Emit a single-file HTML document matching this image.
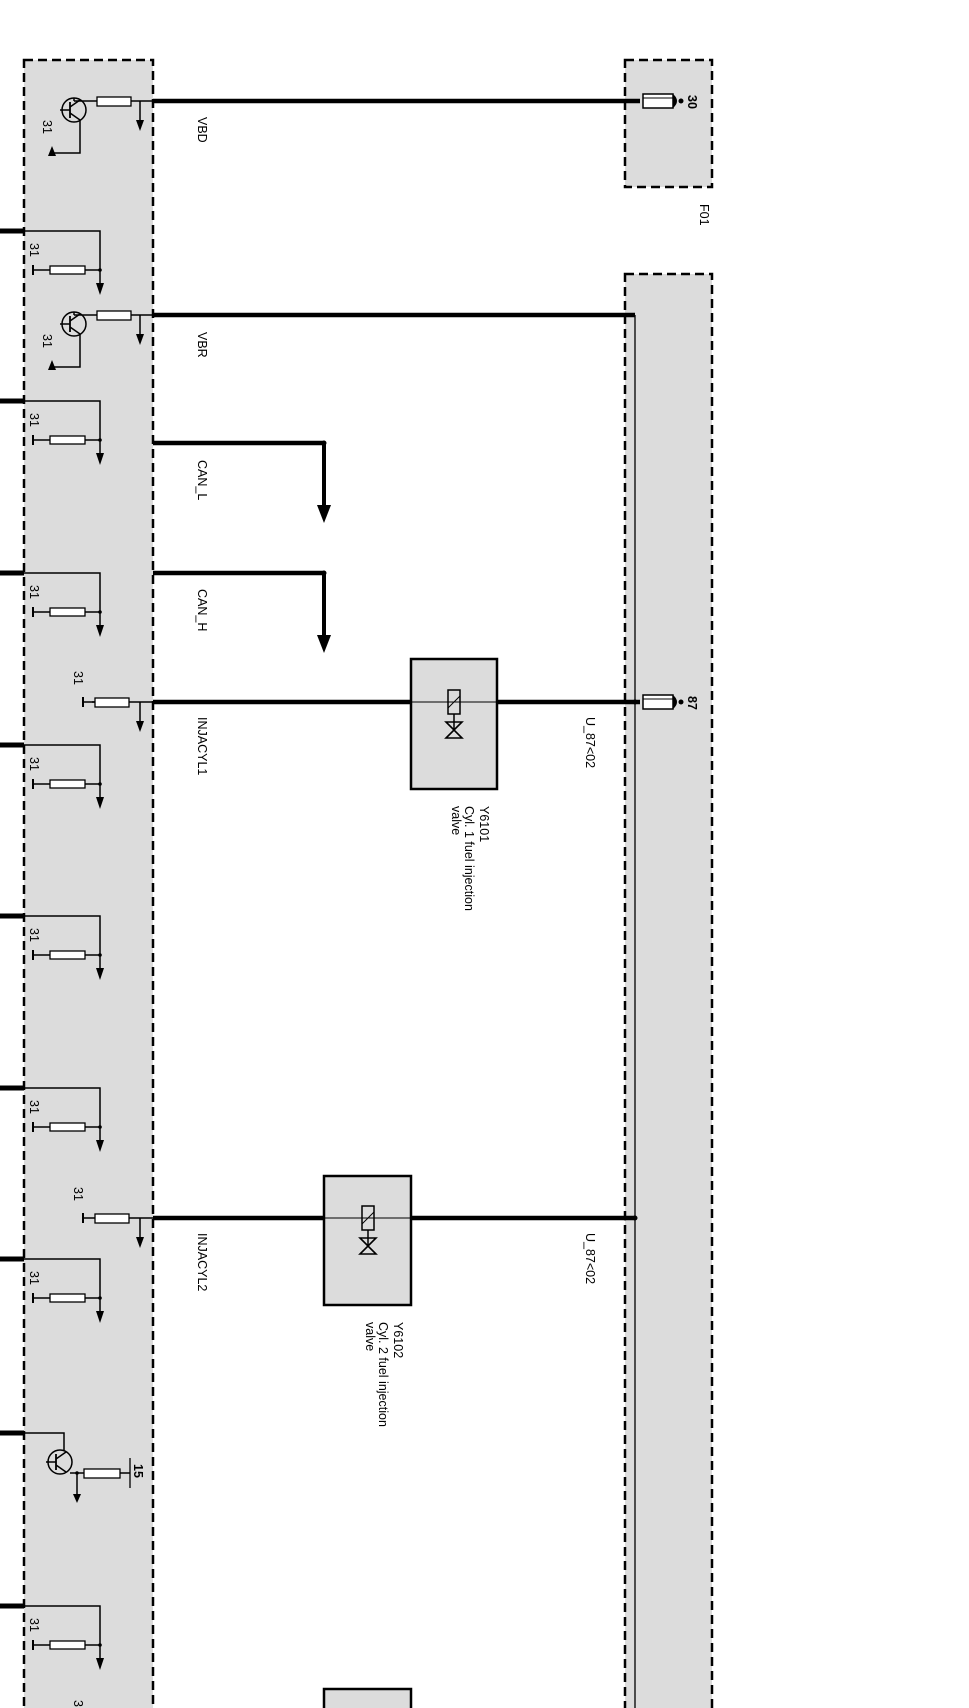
<!DOCTYPE html>
<html><head><meta charset="utf-8"><style>
html,body{margin:0;padding:0;background:#fff}
svg{display:block}
text{font-family:"Liberation Sans",sans-serif;font-size:12.5px;fill:#000}
</style></head><body>
<svg width="969" height="1708" viewBox="0 0 969 1708" xmlns="http://www.w3.org/2000/svg">
<defs>
<g id="rgnd">
 <line x1="0" y1="0" x2="24" y2="0" stroke="#000" stroke-width="5"/>
 <polyline points="24,0 100,0 100,58" fill="none" stroke="#000" stroke-width="1.5"/>
 <polygon points="96,52 104,52 100,64" fill="#000"/>
 <line x1="85" y1="39" x2="100" y2="39" stroke="#000" stroke-width="1.5"/>
 <circle cx="100" cy="39" r="1.8" fill="#000"/>
 <rect x="50" y="35" width="35" height="8" fill="#fff" stroke="#000" stroke-width="1.3"/>
 <line x1="34" y1="39" x2="50" y2="39" stroke="#000" stroke-width="1.5"/>
 <line x1="33" y1="34" x2="33" y2="44" stroke="#000" stroke-width="2"/>
 <text transform="translate(30,12) rotate(90)">31</text>
</g>
<g id="tr">
 <circle cx="0" cy="0" r="12" fill="none" stroke="#000" stroke-width="1.5"/>
 <line x1="-4" y1="-8" x2="-4" y2="8" stroke="#000" stroke-width="1.8"/>
 <line x1="-14" y1="0" x2="-4" y2="0" stroke="#000" stroke-width="1.5"/>
 <line x1="-4" y1="-3" x2="6" y2="-10" stroke="#000" stroke-width="1.5"/>
 <line x1="-4" y1="3" x2="6" y2="10" stroke="#000" stroke-width="1.5"/>
</g>
<g id="valve">
 <rect x="-6" y="-12" width="12" height="24" fill="none" stroke="#000" stroke-width="1.5"/>
 <line x1="-6" y1="6" x2="6" y2="-6" stroke="#000" stroke-width="1"/>
 <line x1="0" y1="12" x2="0" y2="28" stroke="#000" stroke-width="1.5"/>
 <polygon points="-8,20 8,20 0,28" fill="none" stroke="#000" stroke-width="1.6"/>
 <polygon points="-8,36 8,36 0,28" fill="none" stroke="#000" stroke-width="1.6"/>
</g>
<g id="fuse">
 <rect x="0" y="-7" width="30" height="14" fill="#fff" stroke="#000" stroke-width="1.5"/>
 <line x1="0" y1="-3" x2="30" y2="-3" stroke="#000" stroke-width="1"/>
 <path d="M30,-7 Q38,0 30,7" fill="#000"/>
 <circle cx="38" cy="0" r="2.5" fill="#000"/>
</g>
</defs>

<rect x="24" y="60" width="129" height="1660" fill="#dcdcdc" stroke="#000" stroke-width="2.5" stroke-dasharray="9,5"/>
<rect x="625" y="60" width="87" height="127" fill="#dcdcdc" stroke="#000" stroke-width="2.5" stroke-dasharray="9,5"/>
<text transform="translate(700,204) rotate(90)">F01</text>
<rect x="625" y="274" width="87" height="1450" fill="#dcdcdc" stroke="#000" stroke-width="2.5" stroke-dasharray="9,5"/>
<line x1="635" y1="315" x2="635" y2="1708" stroke="#000" stroke-width="1.3"/>

<use href="#rgnd" x="0" y="231"/>
<use href="#rgnd" x="0" y="401"/>
<use href="#rgnd" x="0" y="573"/>
<use href="#rgnd" x="0" y="745"/>
<use href="#rgnd" x="0" y="916"/>
<use href="#rgnd" x="0" y="1088"/>
<use href="#rgnd" x="0" y="1259"/>
<use href="#rgnd" x="0" y="1606"/>

<line x1="153" y1="101" x2="640" y2="101" stroke="#000" stroke-width="4.5"/>
<use href="#tr" x="74" y="110"/>
<line x1="74" y1="98" x2="74" y2="101" stroke="#000" stroke-width="1.5"/>
<line x1="74" y1="101" x2="97" y2="101" stroke="#000" stroke-width="1.5"/>
<rect x="97" y="97" width="34" height="9" fill="#fff" stroke="#000" stroke-width="1.3"/>
<line x1="131" y1="101" x2="153" y2="101" stroke="#000" stroke-width="1.5"/>
<line x1="140" y1="101" x2="140" y2="124" stroke="#000" stroke-width="1.5"/>
<polygon points="136,120 144,120 140,131" fill="#000"/>
<polyline points="80,120 80,153 52,153" fill="none" stroke="#000" stroke-width="1.5"/>
<polygon points="52,146 48,156 56,156" fill="#000"/>
<text transform="translate(43,120) rotate(90)">31</text>
<use href="#fuse" x="643" y="101"/>
<text transform="translate(688,95) rotate(90)" font-weight="bold">30</text>
<text transform="translate(198,117) rotate(90)">VBD</text>

<line x1="153" y1="315" x2="635" y2="315" stroke="#000" stroke-width="4.5"/>
<use href="#tr" x="74" y="324"/>
<line x1="74" y1="312" x2="74" y2="315" stroke="#000" stroke-width="1.5"/>
<line x1="74" y1="315" x2="97" y2="315" stroke="#000" stroke-width="1.5"/>
<rect x="97" y="311" width="34" height="9" fill="#fff" stroke="#000" stroke-width="1.3"/>
<line x1="131" y1="315" x2="153" y2="315" stroke="#000" stroke-width="1.5"/>
<line x1="140" y1="315" x2="140" y2="338" stroke="#000" stroke-width="1.5"/>
<polygon points="136,334 144,334 140,345" fill="#000"/>
<polyline points="80,334 80,367 52,367" fill="none" stroke="#000" stroke-width="1.5"/>
<polygon points="52,360 48,370 56,370" fill="#000"/>
<text transform="translate(43,334) rotate(90)">31</text>
<text transform="translate(198,332) rotate(90)">VBR</text>

<line x1="153" y1="443" x2="324" y2="443" stroke="#000" stroke-width="4.5"/>
<circle cx="324" cy="443" r="2.5" fill="#000"/>
<line x1="324" y1="443" x2="324" y2="508" stroke="#000" stroke-width="4"/>
<polygon points="317,505 331,505 324,523" fill="#000"/>
<text transform="translate(198,460) rotate(90)">CAN_L</text>
<line x1="153" y1="573" x2="324" y2="573" stroke="#000" stroke-width="4.5"/>
<circle cx="324" cy="573" r="2.5" fill="#000"/>
<line x1="324" y1="573" x2="324" y2="638" stroke="#000" stroke-width="4"/>
<polygon points="317,635 331,635 324,653" fill="#000"/>
<text transform="translate(198,589) rotate(90)">CAN_H</text>

<line x1="153" y1="702" x2="640" y2="702" stroke="#000" stroke-width="4.5"/>
<rect x="411" y="659" width="86" height="130" fill="#dcdcdc" stroke="#000" stroke-width="2.5"/>
<line x1="411" y1="702" x2="497" y2="702" stroke="#000" stroke-width="1"/>
<use href="#valve" x="454" y="702"/>
<line x1="92" y1="702" x2="153" y2="702" stroke="#000" stroke-width="1.5"/>
<line x1="83" y1="697" x2="83" y2="707" stroke="#000" stroke-width="2"/>
<line x1="83" y1="702" x2="95" y2="702" stroke="#000" stroke-width="1.5"/>
<rect x="95" y="698" width="34" height="9" fill="#fff" stroke="#000" stroke-width="1.3"/>
<line x1="140" y1="702" x2="140" y2="725" stroke="#000" stroke-width="1.5"/>
<polygon points="136,721 144,721 140,732" fill="#000"/>
<text transform="translate(74,671) rotate(90)">31</text>
<circle cx="635" cy="702" r="2.5" fill="#000"/>
<use href="#fuse" x="643" y="702"/>
<text transform="translate(688,696) rotate(90)" font-weight="bold">87</text>
<text transform="translate(198,717) rotate(90)">INJACYL1</text>
<text transform="translate(586,717) rotate(90)">U_87&lt;02</text>
<text transform="translate(480,806) rotate(90)">Y6101</text>
<text transform="translate(465,806) rotate(90)">Cyl. 1 fuel injection</text>
<text transform="translate(452,806) rotate(90)">valve</text>

<line x1="153" y1="1218" x2="635" y2="1218" stroke="#000" stroke-width="4.5"/>
<rect x="324" y="1176" width="87" height="129" fill="#dcdcdc" stroke="#000" stroke-width="2.5"/>
<line x1="324" y1="1218" x2="411" y2="1218" stroke="#000" stroke-width="1"/>
<use href="#valve" x="368" y="1218"/>
<line x1="83" y1="1213" x2="83" y2="1223" stroke="#000" stroke-width="2"/>
<line x1="83" y1="1218" x2="95" y2="1218" stroke="#000" stroke-width="1.5"/>
<rect x="95" y="1214" width="34" height="9" fill="#fff" stroke="#000" stroke-width="1.3"/>
<line x1="129" y1="1218" x2="153" y2="1218" stroke="#000" stroke-width="1.5"/>
<line x1="140" y1="1218" x2="140" y2="1241" stroke="#000" stroke-width="1.5"/>
<polygon points="136,1237 144,1237 140,1248" fill="#000"/>
<text transform="translate(74,1187) rotate(90)">31</text>
<circle cx="625" cy="1218" r="2.5" fill="#000"/>
<circle cx="635" cy="1218" r="2.5" fill="#000"/>
<text transform="translate(198,1233) rotate(90)">INJACYL2</text>
<text transform="translate(586,1233) rotate(90)">U_87&lt;02</text>
<text transform="translate(394,1322) rotate(90)">Y6102</text>
<text transform="translate(379,1322) rotate(90)">Cyl. 2 fuel injection</text>
<text transform="translate(366,1322) rotate(90)">valve</text>

<line x1="0" y1="1433" x2="24" y2="1433" stroke="#000" stroke-width="5"/>
<polyline points="24,1433 64,1433 64,1450" fill="none" stroke="#000" stroke-width="1.5"/>
<use href="#tr" x="60" y="1462"/>
<line x1="70" y1="1473" x2="84" y2="1473" stroke="#000" stroke-width="1.5"/>
<circle cx="77" cy="1473" r="1.8" fill="#000"/>
<rect x="84" y="1469" width="36" height="9" fill="#fff" stroke="#000" stroke-width="1.3"/>
<line x1="120" y1="1473" x2="130" y2="1473" stroke="#000" stroke-width="1.5"/>
<line x1="130" y1="1458" x2="130" y2="1488" stroke="#000" stroke-width="1.3"/>
<line x1="77" y1="1473" x2="77" y2="1497" stroke="#000" stroke-width="1.5"/>
<polygon points="73,1494 81,1494 77,1503" fill="#000"/>
<text transform="translate(134,1464) rotate(90)" font-weight="bold">15</text>

<text transform="translate(74,1700) rotate(90)">31</text>
<rect x="324" y="1689" width="87" height="40" fill="#dcdcdc" stroke="#000" stroke-width="2.5"/>
</svg>
</body></html>
